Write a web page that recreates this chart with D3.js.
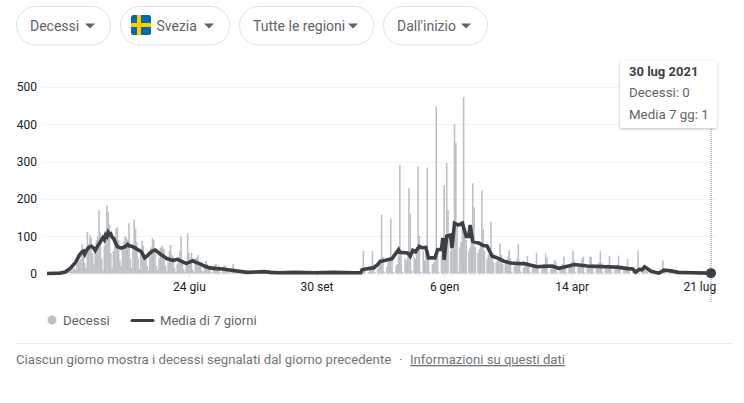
<!DOCTYPE html>
<html><head><meta charset="utf-8">
<script src="https://cdn.jsdelivr.net/npm/d3@7"></script>
<style>
html,body{margin:0;padding:0;background:#fff;width:744px;height:403px;overflow:hidden}
svg{display:block;font-family:Roboto,Arial,sans-serif}
</style></head><body><svg id="c" width="744" height="403"></svg>
<script>
const startDate = "2020-03-07";
const metric = "Decessi";
const chipLabels = ["Decessi","Svezia","Tutte le regioni","Dall'inizio"];
const yTicks = [0,100,200,300,400,500];
const xTickDates = ["2020-06-24","2020-09-30","2021-01-06","2021-04-14","2021-07-21"];
const xTickLabels = ["24 giu","30 set","6 gen","14 apr","21 lug"];
const legendLabels = ["Decessi","Media di 7 giorni"];
const tooltipLines = ["30 lug 2021","Decessi: 0","Media 7 gg: 1"];
const footerText = "Ciascun giorno mostra i decessi segnalati dal giorno precedente";
const footerLink = "Informazioni su questi dati";
const dailyDeaths = [
0,0,0,0,0,0,0,
0,0,0,1,0,0,1,
2,3,5,6,10,8,12,
15,10,25,30,35,40,80,
60,28,15,112,80,103,95,
55,25,70,90,100,170,110,
40,10,75,115,183,165,130,
55,15,60,95,120,124,90,
35,20,65,85,100,95,90,
135,40,15,75,145,120,85,
40,12,55,88,75,50,40,
20,8,45,70,95,90,60,
20,8,40,68,75,70,65,
22,6,30,60,77,50,45,
15,5,25,45,60,100,35,
12,5,30,108,55,40,55,
10,4,40,42,50,30,25,
8,3,20,34,25,20,15,
5,2,18,25,25,12,22,
3,2,15,22,20,10,12,
4,1,14,25,12,8,6,
2,1,8,10,7,5,4,
1,0,4,6,5,3,2,
0,0,3,5,7,3,2,
0,0,4,6,5,2,1,
0,0,2,4,3,2,1,
0,0,3,5,4,2,1,
0,0,2,6,3,1,1,
0,0,3,4,7,2,1,
0,0,2,5,3,2,1,
0,0,2,3,6,2,1,
0,0,1,4,2,2,1,
0,0,3,6,3,1,1,
0,0,2,3,5,2,1,
0,0,2,4,6,60,8,
0,0,5,14,12,60,25,
3,0,12,22,30,157,45,
5,0,18,30,42,148,38,
4,0,20,25,50,291,55,
5,0,40,35,45,229,160,
8,0,45,40,70,287,100,
5,0,60,35,65,284,40,
4,0,25,30,35,448,50,
3,0,50,45,237,90,296,
170,0,60,80,65,400,350,
130,5,70,85,120,474,110,
90,0,60,70,95,242,178,
70,0,55,65,80,222,120,
60,0,40,50,55,138,45,
30,0,30,35,40,81,50,
25,0,25,30,45,63,40,
5,0,20,25,40,80,35,
5,0,15,20,30,47,25,
4,0,15,25,25,56,20,
3,0,10,20,25,54,43,
3,0,12,20,25,36,30,
3,0,15,20,25,45,20,
3,0,20,25,30,62,35,
3,0,18,22,25,41,45,
3,0,15,20,45,45,25,
3,0,15,25,30,60,30,
3,0,15,20,25,47,15,
3,0,10,15,20,48,12,
2,0,8,12,20,39,14,
2,0,5,8,6,10,62,
2,0,6,10,12,8,5,
1,0,3,5,4,3,2,
0,0,2,3,35,5,3,
0,0,2,3,6,3,2,
0,0,1,3,4,2,1,
0,0,1,2,3,2,1,
0,0,1,2,1,2,1,
0,0,1,1,2,1,0];
const avgDays = [0,10,14,18,22,25,27,28,29,30,32,34,36,37,39,41,43,44,45,46,47,48,49,50,51,52,54,57,60,62,63,65,67,70,72,73,75,77,79,81,83,85,87,90,92,95,97,100,102,105,107,110,112,115,118,121,125,130,135,143,154,160,167,172,178,190,205,220,235,241,242,245,250,251,254,256,257,264,265,270,271,277,279,281,283,286,288,291,293,298,300,303,304,305,307,310,311,313,316,319,322,324,325,327,332,335,338,342,345,351,356,364,366,371,376,382,388,393,399,405,410,415,422,430,438,446,450,452,455,457,459,464,470,474,479,485,495,510];
const avgValues = [0,1,4,14,30,50,58,60,52,60,70,73,68,62,74,85,96,91,103,99,110,104,106,97,95,87,72,68,72,78,74,73,70,63,60,55,42,47,55,60,63,58,52,45,40,37,35,38,35,30,27,31,34,29,25,20,15,13,12,8,3,4,5,3,2,3,2,3,2,2,10,12,15,15,24,33,33,39,40,64,57,55,46,62,58,73,69,70,42,42,64,65,95,37,100,103,68,135,130,135,99,99,130,86,81,75,74,46,43,33,28,26,27,23,18,19,20,14,19,24,22,20,19,18,17,13,12,4,11,10,18,6,1,9,7,3,2,1];

const parse = d3.utcParse("%Y-%m-%d");
const start = parse(startDate);
const dayDate = i => d3.utcDay.offset(start, i);
const endDate = dayDate(dailyDeaths.length - 1);

const svg = d3.select("#c");
const x = d3.scaleUtc().domain([start, endDate]).range([47, 711]);
const y = d3.scaleLinear().domain([0, 500]).range([273.5, 87]);

// chips
const chipX = [16,120,239,383], chipW = [94,109,134,104];
const textX = [30,156.5,253,397], caretX = [90,209,353,466];
const chips = svg.selectAll("g.chip").data(chipLabels).join("g");
chips.append("rect").attr("x",(d,i)=>chipX[i]+.5).attr("y",6.5).attr("width",(d,i)=>chipW[i]).attr("height",38.5).attr("rx",19)
  .attr("fill","#fff").attr("stroke","#dfe1e5");
chips.append("text").attr("x",(d,i)=>textX[i]).attr("y",30.5).attr("font-size",14).attr("fill","#5f6368").text(d=>d);
chips.append("path").attr("d",(d,i)=>`M${caretX[i]-5},23.5h10l-5,5z`).attr("fill","#5f6368");
// flag
const defs = svg.append("defs");
defs.append("clipPath").attr("id","fl").append("rect").attr("x",131).attr("y",15).attr("width",20).attr("height",20).attr("rx",2.5);
const flag = svg.append("g").attr("clip-path","url(#fl)");
flag.append("rect").attr("x",131).attr("y",15).attr("width",20).attr("height",20).attr("fill","#066aa7");
flag.append("rect").attr("x",131).attr("y",23).attr("width",20).attr("height",4).attr("fill","#fecc00");
flag.append("rect").attr("x",137).attr("y",15).attr("width",4).attr("height",20).attr("fill","#fecc00");

// grid + y axis
const yAxis = d3.axisLeft(y).tickValues(yTicks).tickSize(0).tickPadding(0);
const yg = svg.append("g").attr("transform","translate(37,0)").call(yAxis);
yg.select(".domain").remove();
yg.selectAll("text").attr("font-family","Roboto,Arial,sans-serif").attr("font-size",12).attr("fill","#202124");
svg.append("g").selectAll("line").data(yTicks).join("line")
  .attr("x1",42).attr("x2",716).attr("y1",d=>Math.round(y(d))+.5).attr("y2",d=>Math.round(y(d))+.5)
  .attr("stroke","#f1f3f4").attr("stroke-width",1);

// x axis
const xTickVals = xTickDates.map(parse);
const xAxis = d3.axisBottom(x).tickValues(xTickVals).tickFormat((d,i)=>xTickLabels[i]).tickSize(5).tickPadding(3);
const xg = svg.append("g").attr("transform","translate(0,274)").call(xAxis);
xg.select(".domain").remove();
xg.selectAll("line").attr("stroke","#e8eaed");
xg.selectAll("text").attr("font-family","Roboto,Arial,sans-serif").attr("font-size",12).attr("fill","#202124");

// bars
svg.append("g").selectAll("rect").data(dailyDeaths).join("rect")
  .attr("x",(d,i)=>x(dayDate(i))-.8).attr("width",1.6)
  .attr("y",d=>y(d)).attr("height",d=>y(0)-y(d)).attr("fill","#bdc1c6");

// dotted cursor
svg.append("line").attr("x1",x(endDate)).attr("x2",x(endDate)).attr("y1",127).attr("y2",303)
  .attr("stroke","#80868b").attr("stroke-width",1).attr("stroke-dasharray","1 1");

// avg line
const line = d3.line().x((d,i)=>x(dayDate(avgDays[i]))).y(d=>y(d)).curve(d3.curveLinear);
svg.append("path").attr("d",line(avgValues)).attr("fill","none").attr("stroke","#3c4043").attr("stroke-width",3.6).attr("stroke-linejoin","miter");
svg.append("circle").attr("cx",x(endDate)).attr("cy",y(avgValues[avgValues.length-1])).attr("r",5).attr("fill","#3c4043");

// tooltip
const filt = defs.append("filter").attr("id","sh").attr("x","-20%").attr("y","-20%").attr("width","140%").attr("height","140%");
filt.append("feDropShadow").attr("dx",0).attr("dy",1).attr("stdDeviation",1.5).attr("flood-color","#3c4043").attr("flood-opacity",.35);
svg.append("rect").attr("x",620).attr("y",61).attr("width",97).attr("height",67).attr("rx",2).attr("fill","#fff").attr("filter","url(#sh)");
const ttY = [76,97,119];
svg.append("g").selectAll("text").data(tooltipLines).join("text")
  .attr("x",629).attr("y",(d,i)=>ttY[i]).attr("font-size",(d,i)=>i?13.3:13).attr("font-weight",(d,i)=>i?400:700)
  .attr("fill",(d,i)=>i?"#5f6368":"#3c4043").text(d=>d);

// legend
svg.append("circle").attr("cx",52).attr("cy",320).attr("r",4.5).attr("fill","#bdc1c6");
svg.append("text").attr("x",63).attr("y",325).attr("font-size",13.3).attr("fill","#5f6368").text(legendLabels[0]);
svg.append("line").attr("x1",132).attr("x2",153).attr("y1",320.5).attr("y2",320.5).attr("stroke","#3c4043").attr("stroke-width",3).attr("stroke-linecap","round");
svg.append("text").attr("x",160).attr("y",325).attr("font-size",13.1).attr("fill","#5f6368").text(legendLabels[1]);

// footer
svg.append("line").attr("x1",16).attr("x2",733).attr("y1",343.5).attr("y2",343.5).attr("stroke","#e8eaed");
svg.append("text").attr("x",16).attr("y",364).attr("font-size",13.2).attr("fill","#70757a").text(footerText);
svg.append("text").attr("x",399).attr("y",364).attr("font-size",13).attr("fill","#70757a").text("·");
svg.append("text").attr("x",410).attr("y",364).attr("font-size",13.1).attr("fill","#70757a").attr("text-decoration","underline").text(footerLink);
</script></body></html>
